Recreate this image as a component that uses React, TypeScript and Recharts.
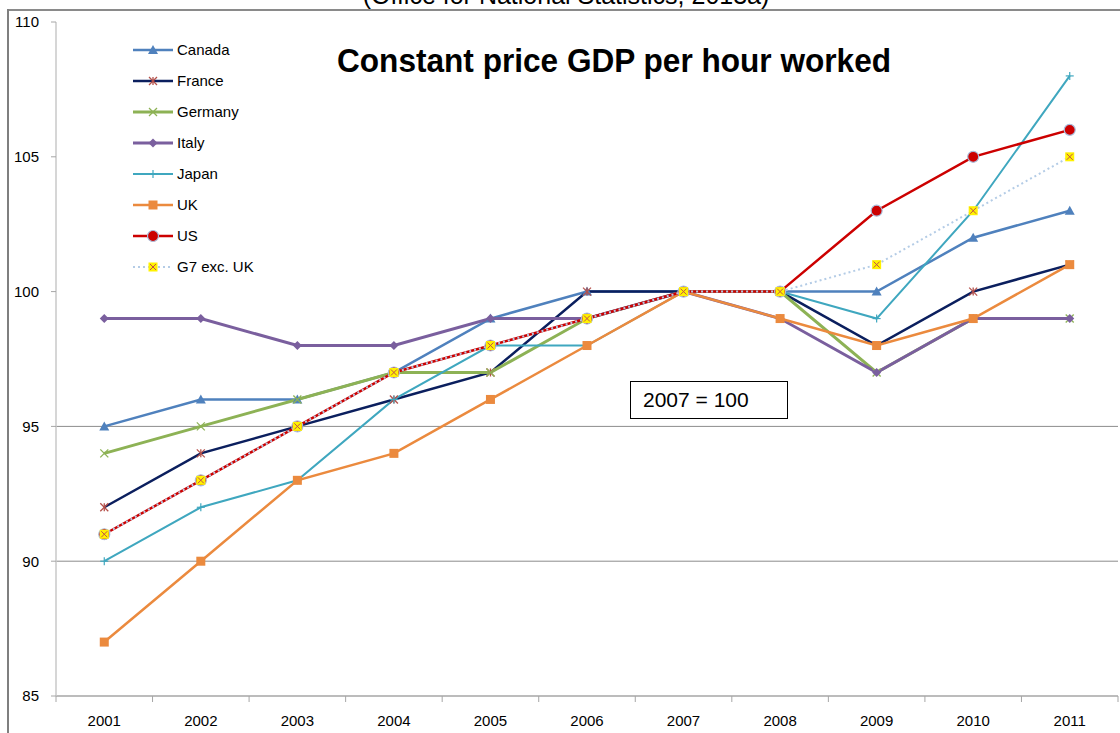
import React from "react";
import { LineChart, Line, XAxis, YAxis, ReferenceLine } from "recharts";

const years = [2001, 2002, 2003, 2004, 2005, 2006, 2007, 2008, 2009, 2010, 2011];
const canada = [95, 96, 96, 97, 99, 100, 100, 100, 100, 102, 103];
const france = [92, 94, 95, 96, 97, 100, 100, 100, 98, 100, 101];
const germany = [94, 95, 96, 97, 97, 99, 100, 100, 97, 99, 99];
const italy = [99, 99, 98, 98, 99, 99, 100, 99, 97, 99, 99];
const japan = [90, 92, 93, 96, 98, 98, 100, 100, 99, 103, 108];
const uk = [87, 90, 93, 94, 96, 98, 100, 99, 98, 99, 101];
const us = [91, 93, 95, 97, 98, 99, 100, 100, 103, 105, 106];
const g7 = [91, 93, 95, 97, 98, 99, 100, 100, 101, 103, 105];
const yTicks = [85, 90, 95, 100, 105, 110];
const gridValues = [90, 95];

const data = years.map((y, i) => ({
  year: y,
  Canada: canada[i],
  France: france[i],
  Germany: germany[i],
  Italy: italy[i],
  Japan: japan[i],
  UK: uk[i],
  US: us[i],
  G7: g7[i],
}));

type Shape = "triangle" | "star" | "x" | "diamond" | "plus" | "square" | "circle" | "g7";

const series: { key: string; name: string; color: string; width: number; shape: Shape; dash?: string }[] = [
  { key: "Canada", name: "Canada", color: "#4F81BD", width: 2.5, shape: "triangle" },
  { key: "France", name: "France", color: "#0B1F5E", width: 2.5, shape: "star" },
  { key: "Germany", name: "Germany", color: "#8DB255", width: 3, shape: "x" },
  { key: "Italy", name: "Italy", color: "#7A5F9E", width: 3, shape: "diamond" },
  { key: "Japan", name: "Japan", color: "#3FA7BF", width: 2, shape: "plus" },
  { key: "UK", name: "UK", color: "#EB8A3E", width: 2.5, shape: "square" },
  { key: "US", name: "US", color: "#CC0000", width: 2.5, shape: "circle" },
  { key: "G7", name: "G7 exc. UK", color: "#B4CCE6", width: 2, shape: "g7", dash: "2 3" },
];

const FONT = "Liberation Sans, Arial, sans-serif";

function marker(shape: Shape, color: string, cx: number, cy: number, key?: string) {
  switch (shape) {
    case "triangle":
      return <path key={key} d={`M${cx},${cy - 5} L${cx + 5},${cy + 4} L${cx - 5},${cy + 4} Z`} fill={color} />;
    case "star":
      return (
        <g key={key} stroke="#B5504A" strokeWidth={1.3}>
          <line x1={cx - 4} y1={cy - 4} x2={cx + 4} y2={cy + 4} />
          <line x1={cx - 4} y1={cy + 4} x2={cx + 4} y2={cy - 4} />
          <line x1={cx} y1={cy - 4} x2={cx} y2={cy + 4} />
        </g>
      );
    case "x":
      return (
        <g key={key} stroke={color} strokeWidth={1.3}>
          <line x1={cx - 4} y1={cy - 4} x2={cx + 4} y2={cy + 4} />
          <line x1={cx - 4} y1={cy + 4} x2={cx + 4} y2={cy - 4} />
        </g>
      );
    case "diamond":
      return <path key={key} d={`M${cx},${cy - 4.5} L${cx + 4.5},${cy} L${cx},${cy + 4.5} L${cx - 4.5},${cy} Z`} fill={color} />;
    case "plus":
      return (
        <g key={key} stroke={color} strokeWidth={1.2}>
          <line x1={cx - 4} y1={cy} x2={cx + 4} y2={cy} />
          <line x1={cx} y1={cy - 4} x2={cx} y2={cy + 4} />
        </g>
      );
    case "square":
      return <rect key={key} x={cx - 4.5} y={cy - 4.5} width={9} height={9} fill={color} />;
    case "circle":
      return <circle key={key} cx={cx} cy={cy} r={5.5} fill={color} stroke="#A9BEDC" strokeWidth={1.2} />;
    case "g7":
      return (
        <g key={key}>
          <rect x={cx - 4.5} y={cy - 4.5} width={9} height={9} fill="#FFF200" />
          <line x1={cx - 3} y1={cy - 3} x2={cx + 3} y2={cy + 3} stroke="#C0504D" strokeWidth={1} />
          <line x1={cx - 3} y1={cy + 3} x2={cx + 3} y2={cy - 3} stroke="#C0504D" strokeWidth={1} />
        </g>
      );
  }
}

const xTicks: number[] = [];
for (let i = 0; i < years.length; i++) {
  xTicks.push(years[i] - 0.5);
  xTicks.push(years[i]);
}
xTicks.push(years[years.length - 1] + 0.5);

const XTick = (props: any) => {
  const { x, y, payload } = props;
  const v = payload.value;
  if (Number.isInteger(v)) {
    return (
      <text x={x} y={y + 30} textAnchor="middle" fontSize={15} fill="#000" fontFamily={FONT}>
        {v}
      </text>
    );
  }
  return <line x1={x} x2={x} y1={y} y2={y + 6} stroke="#A6A6A6" strokeWidth={1} />;
};

export default function App() {
  return (
    <div style={{ position: "absolute", left: 0, top: 0, width: 1120, height: 733, overflow: "hidden", background: "#fff", fontFamily: FONT }}>
      <div style={{ position: "absolute", left: 0, width: 1132, top: -19, textAlign: "center", fontSize: 25, color: "#000", whiteSpace: "nowrap" }}>
        (Office for National Statistics, 2013a)
      </div>
      <div style={{ position: "absolute", left: 8, top: 9, width: 1120, height: 1.5, background: "#8A8A8A" }} />
      <div style={{ position: "absolute", left: 7, top: 9, width: 2, height: 740, background: "#7F7F7F" }} />
      <div style={{ position: "absolute", left: 0, top: 0 }}>
        <LineChart width={1120} height={733} data={data} margin={{ top: 22, right: 2, left: 0, bottom: 7 }}>
          {gridValues.map((g) => (
            <ReferenceLine key={g} y={g} stroke="#8C8C8C" strokeWidth={1} ifOverflow="extendDomain" />
          ))}
          <XAxis
            dataKey="year"
            type="number"
            domain={[2000.5, 2011.5]}
            ticks={xTicks}
            interval={0}
            allowDecimals
            tickSize={0}
            tickMargin={0}
            tickLine={false}
            tick={XTick}
            height={30}
            axisLine={{ stroke: "#A6A6A6", strokeWidth: 1.5 }}
          />
          <YAxis
            type="number"
            domain={[85, 110]}
            ticks={yTicks}
            interval={0}
            width={56}
            tickSize={5}
            tickMargin={12}
            tickLine={{ stroke: "#A6A6A6" }}
            axisLine={{ stroke: "#C8C8C8", strokeWidth: 1.5 }}
            tick={{ fontSize: 15, fill: "#000", fontFamily: FONT }}
          />
          {series.map((s) => (
            <Line
              key={s.key}
              dataKey={s.key}
              name={s.name}
              type="linear"
              stroke={s.color}
              strokeWidth={s.width}
              strokeDasharray={s.dash}
              isAnimationActive={false}
              dot={(p: any) => marker(s.shape, s.color, p.cx, p.cy, `${s.key}-${p.index}`)}
              activeDot={false}
            />
          ))}
        </LineChart>
      </div>
      <svg width={160} height={250} style={{ position: "absolute", left: 131, top: 41 }}>
        {series.map((s, i) => {
          const cy = 9 + i * 31;
          return (
            <g key={s.key}>
              <line x1={2} x2={42} y1={cy} y2={cy} stroke={s.color} strokeWidth={s.width} strokeDasharray={s.dash} />
              {marker(s.shape, s.color, 22, cy)}
              <text x={46} y={cy + 5} fontSize={15} fill="#000" fontFamily={FONT}>
                {s.name}
              </text>
            </g>
          );
        })}
      </svg>
      <svg width={1120} height={100} style={{ position: "absolute", left: 0, top: 0, pointerEvents: "none" }}>
        <text x={614} y={72} textAnchor="middle" fontSize={34} fontWeight="bold" fill="#000" fontFamily={FONT} textLength={554} lengthAdjust="spacingAndGlyphs">
          Constant price GDP per hour worked
        </text>
      </svg>
      <div style={{ position: "absolute", left: 630, top: 381, width: 158, height: 38, border: "1.5px solid #000", background: "#fff", boxSizing: "border-box", fontSize: 21, lineHeight: "36px", paddingLeft: 12, color: "#000" }}>
        2007 = 100
      </div>
    </div>
  );
}
